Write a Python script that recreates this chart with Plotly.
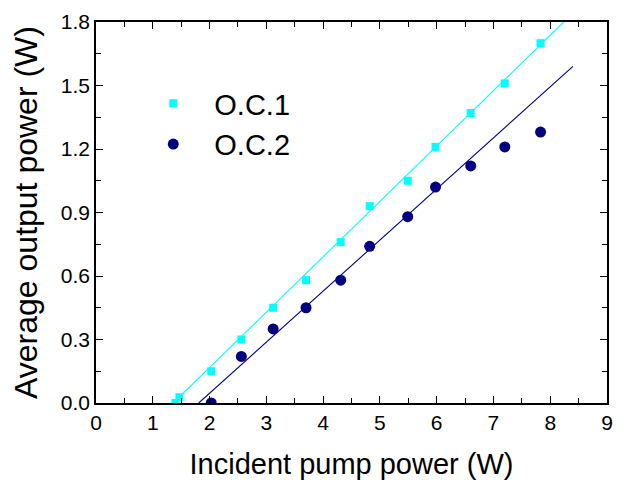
import plotly.graph_objects as go

# Data
pump_oc1 = [1.40, 1.47, 2.03, 2.56, 3.12, 3.70, 4.31, 4.82, 5.49, 5.98, 6.60, 7.20, 7.83]
out_oc1 = [0.0, 0.027, 0.15, 0.30, 0.45, 0.58, 0.76, 0.93, 1.05, 1.21, 1.37, 1.51, 1.70]
pump_oc2 = [2.03, 2.56, 3.12, 3.70, 4.31, 4.82, 5.49, 5.98, 6.60, 7.20, 7.83]
out_oc2 = [0.0, 0.22, 0.35, 0.45, 0.58, 0.74, 0.88, 1.02, 1.12, 1.21, 1.28]

fit1_x = [1.36, 8.24]
fit1_y = [0.0, 1.80]
fit2_x = [1.81, 8.40]
fit2_y = [0.0, 1.59]

series_names = ["O.C.1", "O.C.2"]
c1 = "#00FFFF"
c2 = "#000080"

fig = go.Figure()
fig.add_trace(go.Scatter(x=fit1_x, y=fit1_y, mode="lines", line=dict(color=c1, width=1.1), showlegend=False))
fig.add_trace(go.Scatter(x=fit2_x, y=fit2_y, mode="lines", line=dict(color=c2, width=1.1), showlegend=False))
fig.add_trace(go.Scatter(x=pump_oc1, y=out_oc1, mode="markers", name=series_names[0],
                         marker=dict(symbol="square", size=8, color=c1)))
fig.add_trace(go.Scatter(x=pump_oc2, y=out_oc2, mode="markers", name=series_names[1],
                         marker=dict(symbol="circle", size=11, color=c2)))

axis_common = dict(
    showgrid=False, zeroline=False, showline=True, linecolor="black", linewidth=1.5,
    mirror="ticks", ticks="inside", ticklen=7, tickwidth=1.2, tickcolor="black",
    automargin=False,
    tickfont=dict(family="Liberation Sans, Arial, sans-serif", size=21, color="black"),
)

fig.update_layout(
    width=626, height=480,
    margin=dict(l=96, r=19, t=22, b=77),
    paper_bgcolor="white", plot_bgcolor="white",
    font=dict(family="Liberation Sans, Arial, sans-serif", color="black"),
    xaxis=dict(range=[0, 9], dtick=1, tick0=0,
               title=dict(text="Incident pump power (W)", font=dict(size=29), standoff=21),
               minor=dict(dtick=0.5, ticks="inside", ticklen=5, tickcolor="black", tickwidth=1.2),
               **axis_common),
    yaxis=dict(range=[0, 1.8], dtick=0.3, tick0=0, tickformat=".1f",
               title=dict(text="Average output power (W)", font=dict(size=32), standoff=14),
               minor=dict(dtick=0.15, ticks="inside", ticklen=5, tickcolor="black", tickwidth=1.2),
               **axis_common),
    legend=dict(x=0.071, y=0.853, xanchor="left", yanchor="top", bgcolor="rgba(0,0,0,0)",
                font=dict(size=29), itemwidth=72, borderwidth=0),
)

fig.write_html("out.html", config={"displayModeBar": False},
               post_script="document.body.style.margin='0';")
